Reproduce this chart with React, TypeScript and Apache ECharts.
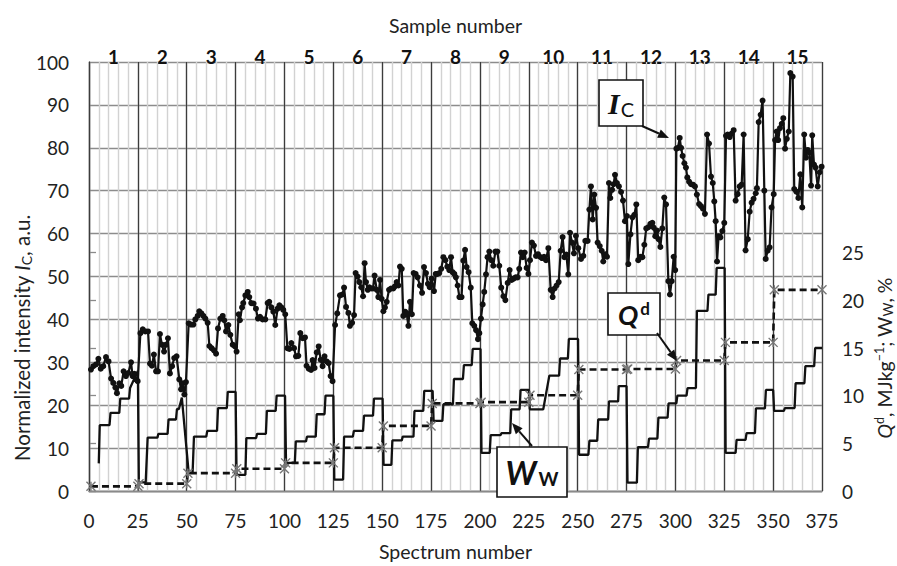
import React, { useEffect, useRef } from 'react';
import * as echarts from 'echarts';

// Sample numbers shown along the top axis (one per block of 25 spectra)
const sampleNumbers = ['1', '2', '3', '4', '5', '6', '7', '8', '9', '10', '11', '12', '13', '14', '15'];

// Normalized intensity I_C versus spectrum number
const intensityIc: [number, number][] = [
  [1, 28.3], [2.2, 29.1], [3.6, 29.5], [4.8, 30.8], [6, 28.5], [7.3, 29.1], [8.7, 31.2], [10, 30.2], [11.3, 26.2], [12.4, 25.2],
  [13.5, 24.1], [14.3, 22.8], [15.5, 25.1], [16.5, 24.5], [17.7, 27.9], [18.9, 26.8], [20.1, 27.5], [21.5, 30], [22.3, 26.8], [23.2, 27.3],
  [24, 26], [24.9, 25.6],
  [26.3, 36.8], [27.5, 37.7], [28.8, 37.2], [30.2, 37.2], [31.2, 29.7], [32.2, 29.2], [33.2, 31.8], [34.3, 27.9], [35.3, 27.9], [36.3, 36.6],
  [37.3, 34.1], [38.4, 32.5], [39.4, 34.1], [40.4, 35.6], [41.4, 27.4], [42.5, 29.1], [43.6, 31], [44.8, 31.4], [46.2, 26], [47.1, 23.7],
  [47.9, 25.1], [48.8, 22.5], [49.6, 25.4],
  [51, 39.1], [52.2, 38.8], [53.4, 38.8], [54.4, 40], [55.6, 40.8], [56.4, 41.9], [57.5, 41.4], [58.5, 40.8], [59.5, 40.2], [60.7, 39.2],
  [61.6, 33.8], [62.7, 33.3], [63.9, 32.8], [65, 32], [66, 37.9], [67.2, 40.2], [68.4, 40.8], [69.2, 39.8], [70.1, 37.2], [71.3, 38.7],
  [72.3, 36.4], [73.5, 34.1], [74.7, 33.7], [75.5, 32.5],
  [76.6, 41.2], [77.2, 39.8], [78.3, 42.8], [78.9, 43.8], [80, 45.6], [81.2, 46.4], [82, 45.2], [83, 43.8], [84.2, 43.7], [85.4, 42.5],
  [86.4, 40.2], [87.5, 40.6], [88.8, 40], [90.2, 40], [91.4, 43.8], [92.2, 44.1], [93.3, 42.8], [94.3, 41.8], [95.3, 38.7], [96.5, 42.5],
  [97.4, 43.3], [98.4, 42.8], [99.4, 42.2], [100.4, 41.2],
  [101.5, 33.3], [102.5, 33.1], [103.5, 34.5], [104.9, 33.3], [105.9, 31.4], [107.1, 31.5], [108.1, 36.8], [109.3, 35.6], [110.5, 35.8], [111.3, 29.2],
  [112.4, 28.5], [113.6, 28.2], [114.4, 30.5], [115.4, 28.7], [116.5, 32.3], [117.5, 33.7], [118.5, 30.6], [119.5, 29.1], [120.5, 31.4], [121.6, 30.2],
  [122.6, 29.8], [123.6, 26.8], [124.6, 25.6],
  [125.9, 38.7], [127, 41.4], [128.4, 45.6], [129.6, 45.8], [130.5, 47.4], [131.5, 42.9], [132.7, 41.5], [133.5, 38.5], [134.6, 39.2], [135.6, 41],
  [136.4, 50.8], [137.4, 50], [138.3, 48.7], [139.3, 47.5], [140.2, 45.4], [141, 53.1], [141.7, 48.7], [142.6, 46.9], [143.4, 47.5], [144.4, 47.2],
  [145.3, 47.2], [146.1, 50.2], [147.2, 46.9], [148, 45.2], [148.9, 49.2], [149.7, 44.8],
  [150.6, 41.9], [151.4, 42.8], [152.3, 44.1], [153.5, 46.9], [154.5, 47.2], [155.7, 47.2], [156.5, 47.7], [157.4, 48.7], [158.3, 47.9], [159.1, 52.3],
  [160, 51.8], [160.8, 40.8], [161.7, 41.8], [162.5, 41.4], [163.4, 38.5], [164.2, 44.1], [165.2, 41.2], [166.1, 50.8], [167.1, 50.6], [168.1, 49.8],
  [169.3, 47.9], [170.4, 46.2], [171.4, 52.2], [172.4, 50.8], [173.4, 48.3], [174.3, 47.5],
  [175.3, 49.5], [176.5, 46.6], [177.4, 50.6], [178.2, 50.6], [179.2, 50.8], [180.2, 51.8], [181.3, 54.5], [182.3, 53.8], [183.3, 52.3], [184.3, 51.5],
  [185.2, 54.5], [186, 51], [186.9, 50.6], [187.7, 49.8], [188.6, 47.9], [189.5, 45.2], [190.6, 45.2], [191.5, 53.7], [192.4, 56.2], [193.2, 52.2],
  [194.2, 51], [195.3, 47.4], [196.1, 39.1], [197.1, 38.5], [198, 37.5], [199, 35.4], [199.7, 36.8],
  [200.5, 40.2], [201.4, 43.5], [202.2, 46.4], [203.1, 50.5], [203.9, 54.5], [204.8, 55.8], [205.8, 53.8], [206.8, 52.5], [207.9, 55.8], [208.9, 55.8],
  [209.9, 52.5], [210.9, 47.4], [212, 45.4], [213, 44.5], [214.2, 48.5], [215.2, 51.5], [216.2, 49.2], [217.2, 49.5], [218.3, 49.8], [219.3, 49.8],
  [220.1, 51.8], [221, 55.6], [221.9, 54.5], [222.9, 55.6], [223.9, 52], [224.8, 50.6],
  [225.6, 53.8], [226.6, 57.9], [227.6, 57.2], [228.7, 54.8], [229.7, 55.2], [230.7, 54.6], [231.7, 54.3], [232.8, 54.6], [233.8, 53.8], [235, 56.6],
  [236.2, 46.9], [237.2, 45.2], [238.2, 47.2], [239.2, 47.9], [240.3, 48.7], [241.3, 56], [242.3, 59.2], [243.2, 54.5], [244.2, 55.1], [245.2, 50.5],
  [246.1, 60.2], [247.1, 57.9], [248.1, 55.4], [249.1, 59.5],
  [250.3, 56.6], [251.7, 54.1], [252.9, 54.8], [253.9, 58.3], [255.1, 58.3], [256, 65.6], [256.8, 71], [257.7, 63.3], [258.5, 69.1], [259.4, 66],
  [260.2, 57.9], [261.3, 57.1], [262.3, 56], [263.1, 53.5], [264.2, 55.2], [265, 54.6], [266, 71.8], [266.7, 68.3], [267.6, 70.2], [268.4, 71.5],
  [269.1, 73.7], [270.1, 71.8], [271.1, 71], [272.2, 69.7], [273.2, 67.7], [274.2, 62.9], [275.2, 64.1],
  [275.9, 52.9], [277, 59.8], [278, 63.8], [279, 64.4], [280, 66.8], [281, 53.8], [282.1, 54.6], [283.1, 54.5], [284.1, 57.4], [285.1, 61.2],
  [286.2, 61.5], [287.2, 62.3], [288.2, 62.5], [288.9, 61.4], [289.7, 59.4], [290.6, 60.7], [291.4, 58.7], [292.3, 56.9], [293.3, 61.2], [294.3, 68.4],
  [295.2, 66.8], [296.4, 48.9], [297.2, 45.8], [298.1, 48.9], [299.1, 54.6], [299.9, 51.5],
  [300.5, 79.8], [301.3, 80], [302.2, 82.3], [302.9, 80], [303.7, 78.1], [304.6, 76.4], [305.4, 75.4], [306.1, 73.1], [307, 72.1], [308, 71.5],
  [309, 71.4], [310, 71], [311, 69.1], [312.1, 66.9], [313.1, 66.4], [314.1, 65.8], [315.1, 64.6], [316.2, 83.1], [317.2, 81], [318.2, 73.3],
  [319.1, 71.8], [319.9, 67.5], [320.6, 62.9], [321.3, 53.5], [322.1, 59.4], [323, 59.1], [324, 60.6], [325, 62.5],
  [325.9, 82.8], [326.7, 83.1], [327.8, 82.5], [328.8, 83.3], [329.8, 84.1], [330.8, 67.7], [331.8, 69.2], [332.9, 71], [333.9, 71.4], [334.9, 83.1],
  [335.9, 56.1], [337, 58.7], [338, 65.1], [339, 67.2], [340, 68.1], [341.1, 69.4], [341.7, 70.6], [342.6, 86], [343.6, 87.7], [344.6, 91],
  [345.5, 70], [346.2, 54.1], [347.2, 56], [348.2, 56.8], [349.2, 66.1],
  [350.3, 69.2], [351, 81.8], [351.8, 83.8], [352.6, 81.8], [353.5, 84.6], [354.4, 85.6], [355.2, 86.9], [356.1, 79.8], [357, 82.1], [358, 83.8],
  [358.8, 97.4], [360, 96.6], [360.8, 70.4], [361.8, 69.8], [362.9, 68.3], [363.9, 73.8], [364.9, 66.1], [365.9, 83.1], [366.8, 77.7], [367.7, 79.5],
  [368.5, 78.9], [369.4, 71.2], [370, 82.9], [370.9, 76.1], [371.7, 75.4], [372.8, 71], [373.8, 74.3], [374.8, 75.6],
];

// Moisture W_W (%), stepwise within each sample
const moistureWw: [number, number][] = [
  [5, 2.9], [5.5, 6.9], [10.5, 6.9], [11, 8.2], [15.5, 8.2], [16, 9.7], [20.5, 9.7], [21, 10.8], [25, 12.6],
  [25.5, 0.9], [29, 0.9], [30, 5.6], [35, 5.6], [35.5, 6.0], [40.2, 6.0], [40.7, 7.5], [44.5, 7.5], [45, 8.6], [46, 8.6], [47.5, 9.8], [51, 1.9],
  [53, 1.9], [53.7, 5.7], [60, 5.7], [60.5, 6.3], [65.5, 6.3], [66, 8.7], [70.5, 8.7], [71, 10.4], [75, 10.4],
  [75.5, 1.7], [80, 1.7], [80.5, 5.55], [85.5, 5.55], [86, 6.0], [90.5, 6.0], [91, 8.4], [95.5, 8.4], [96, 10.0], [100.3, 10.0],
  [100.8, 2.95], [105.3, 2.95], [105.8, 5.2], [111, 5.2], [111.5, 5.7], [116, 5.7], [116.5, 8.05], [120.5, 8.05], [121, 10.0], [125, 10.0],
  [125.5, 1.2], [130, 1.2], [130.5, 5.7], [135, 5.7], [135.5, 6.3], [140.2, 6.3], [140.7, 7.9], [145.3, 7.9], [145.8, 9.7], [150.2, 9.7],
  [150.7, 2.75], [154.7, 2.75], [155.2, 5.3], [160, 5.3], [160.5, 5.7], [166, 5.7], [166.5, 8.4], [171, 8.4], [171.5, 10.5], [175.8, 10.5],
  [176.3, 7.35], [180.8, 7.35], [181.3, 9.1], [186.2, 9.1], [186.7, 11.75], [191.3, 11.75], [191.8, 13.2], [195.8, 13.2], [196.3, 14.9], [200.3, 14.9],
  [200.8, 4.0], [205, 4.0], [205.5, 5.86], [210.5, 5.86], [211, 6.07], [215.5, 6.07], [216, 8.57], [220.3, 8.57], [220.8, 10.6], [225, 10.6],
  [225.5, 8.57], [232.4, 8.57], [235.5, 12.1], [240.5, 12.1], [241, 13.9], [245, 13.9], [245.5, 15.95], [250.2, 15.95],
  [250.7, 3.8], [255.5, 3.8], [256, 5.27], [260, 5.27], [260.5, 7.5], [265.6, 7.5], [266, 9.4], [270.7, 9.4], [271, 11.0], [275, 11.0],
  [275.5, 0.87], [280.3, 0.87], [280.8, 4.6], [286, 4.6], [286.5, 5.5], [290.8, 5.5], [291.3, 7.7], [296, 7.7], [296.5, 9.2], [300.5, 9.2],
  [301, 10.0], [305.7, 10.0], [306.2, 10.8], [310.5, 10.8], [311, 18.9], [316.4, 18.9], [316.9, 20.6], [320.6, 20.6], [321.1, 23.4], [325.2, 23.4],
  [325.7, 4.0], [330.8, 4.0], [331.3, 5.37], [335.9, 5.37], [336.4, 6.07], [340.7, 6.07], [341.2, 8.67], [345.8, 8.67], [346.3, 10.6], [350, 10.6],
  [350.5, 8.4], [355.5, 8.4], [356, 8.7], [361, 8.7], [361.5, 11.3], [366, 11.3], [366.5, 13.1], [371, 13.1], [371.5, 15.0], [375, 15.0],
];

// Heat of combustion Q^d (MJ/kg), one value per sample
const heatQd: number[] = [0.49, 0.77, 1.87, 2.33, 2.95, 4.54, 6.83, 9.19, 9.32, 10.05, 12.75, 12.79, 13.69, 15.59, 21.1];
const SPECTRA_PER_SAMPLE = 25;

const leftTicksMax = 100;
const rightTicksShown = [0, 5, 10, 15, 20, 25];

const FONT = 'Lato, "Open Sans", sans-serif';
const TEXT = '#222';

function heatPoints(): [number, number][] {
  const pts: [number, number][] = [];
  heatQd.forEach((q, i) => {
    const start = i === 0 ? 1 : i * SPECTRA_PER_SAMPLE + 0.6;
    const end = (i + 1) * SPECTRA_PER_SAMPLE;
    pts.push([start, q], [end, q]);
  });
  return pts;
}

function arrow(x1: number, y1: number, x2: number, y2: number) {
  const ang = Math.atan2(y2 - y1, x2 - x1);
  const len = 11;
  const hw = 4.5;
  const bx = x2 - len * Math.cos(ang);
  const by = y2 - len * Math.sin(ang);
  const px = -Math.sin(ang) * hw;
  const py = Math.cos(ang) * hw;
  return [
    { type: 'line', z: 100, shape: { x1, y1, x2: bx, y2: by }, style: { stroke: '#111', lineWidth: 2 } },
    { type: 'polygon', z: 100, shape: { points: [[x2, y2], [bx + px, by + py], [bx - px, by - py]] }, style: { fill: '#111' } },
  ];
}

function box(x: number, y: number, w: number, h: number, text: string, rich: any) {
  return [
    { type: 'rect', z: 100, shape: { x, y, width: w, height: h }, style: { fill: '#fff', stroke: '#111', lineWidth: 1.6 } },
    {
      type: 'text', z: 101, x: x + w / 2, y: y + h / 2,
      style: { text, rich, align: 'center', verticalAlign: 'middle', fill: '#111' },
    },
  ];
}

export default function App() {
  const ref = useRef<HTMLDivElement>(null);

  useEffect(() => {
    document.body.style.margin = '0';
    if (!ref.current) return;
    const chart = echarts.init(ref.current, null, { renderer: 'svg' });

    const graphic: any[] = [
      {
        type: 'text', x: 22, y: 338, rotation: Math.PI / 2,
        style: {
          text: 'Normalized intensity {i|I}{s|C}, a.u.',
          align: 'center', verticalAlign: 'middle',
          font: `20.5px ${FONT}`, fill: TEXT,
          rich: {
            i: { fontStyle: 'italic', fontSize: 20.5, fontFamily: FONT, fill: TEXT },
            s: { fontSize: 14, fontFamily: FONT, fill: TEXT, padding: [8, 0, 0, 0] },
          },
        },
      },
      {
        type: 'text', x: 884, y: 358, rotation: Math.PI / 2,
        style: {
          text: '{i|Q}{sup|d}, MJkg{sup|−1}; W{s|W}, %',
          align: 'center', verticalAlign: 'middle',
          font: `19.5px ${FONT}`, fill: TEXT,
          rich: {
            i: { fontStyle: 'italic', fontSize: 19.5, fontFamily: FONT, fill: TEXT },
            sup: { fontSize: 12.5, fontFamily: FONT, fill: TEXT, padding: [0, 0, 9, 0] },
            s: { fontSize: 13.5, fontFamily: FONT, fill: TEXT, padding: [8, 0, 0, 0] },
          },
        },
      },
      ...box(599, 80, 44, 46, '{a|I}{b|C}', {
        a: { fontFamily: '"Liberation Serif", serif', fontStyle: 'italic', fontWeight: 'bold', fontSize: 30, fill: '#111' },
        b: { fontFamily: FONT, fontSize: 20, fill: '#111', padding: [12, 0, 0, 1] },
      }),
      ...arrow(642, 126, 669, 138),
      ...box(608, 293, 52, 42, '{a|Q}{b|d}', {
        a: { fontFamily: FONT, fontStyle: 'italic', fontWeight: 'bold', fontSize: 27, fill: '#111' },
        b: { fontFamily: FONT, fontWeight: 'bold', fontSize: 17, fill: '#111', padding: [0, 0, 12, 2] },
      }),
      ...arrow(657, 333, 677, 361),
      ...box(497, 447, 70, 50, '{a|W}{b|W}', {
        a: { fontFamily: FONT, fontStyle: 'italic', fontWeight: 'bold', fontSize: 32, fill: '#111' },
        b: { fontFamily: FONT, fontWeight: 'bold', fontSize: 19, fill: '#111', padding: [12, 0, 0, 2] },
      }),
      ...arrow(532, 446, 512, 423),
    ];

    chart.setOption({
      animation: false,
      backgroundColor: '#fff',
      textStyle: { fontFamily: FONT, color: TEXT },
      grid: { left: 89, right: 75, top: 62, bottom: 70, containLabel: false },
      xAxis: [
        {
          type: 'value', min: 0, max: 375, interval: 25, position: 'bottom',
          name: 'Spectrum number', nameLocation: 'middle', nameGap: 50,
          nameTextStyle: { fontSize: 19.5, color: TEXT, fontFamily: FONT },
          axisLine: { show: true, onZero: false, lineStyle: { color: '#8a8a8a', width: 1.3 } },
          axisTick: { show: false },
          axisLabel: { fontSize: 19, color: TEXT, margin: 20, fontFamily: FONT },
          splitLine: { show: true, lineStyle: { color: '#3c3c3c', width: 1.3 } },
          z: 3,
        },
        {
          type: 'value', min: 0, max: 375, interval: 5, position: 'bottom',
          axisLine: { show: false }, axisTick: { show: false }, axisLabel: { show: false },
          splitLine: { show: true, lineStyle: { color: '#d2d2d2', width: 1.4 } },
          z: 1,
        },
        {
          type: 'category', data: sampleNumbers, position: 'top', boundaryGap: true,
          name: 'Sample number', nameLocation: 'middle', nameGap: 27,
          nameTextStyle: { fontSize: 19.5, color: TEXT, fontFamily: FONT },
          axisLine: { show: true, lineStyle: { color: '#8a8a8a', width: 1.3 } },
          axisTick: { show: false },
          axisLabel: { fontSize: 19, fontWeight: 'bold', color: '#111', margin: -4, fontFamily: FONT },
          splitLine: { show: false },
        },
      ],
      yAxis: [
        {
          type: 'value', min: 0, max: leftTicksMax, interval: 10, position: 'left',
          axisLine: { show: true, lineStyle: { color: '#555', width: 1.3 } },
          axisTick: { show: false },
          axisLabel: { fontSize: 19, color: TEXT, margin: 20, fontFamily: FONT },
          splitLine: { show: true, lineStyle: { color: '#8c8c8c', width: 1.3 } },
        },
        {
          type: 'value', min: 0, max: 45, interval: 5, position: 'right',
          axisLine: { show: true, lineStyle: { color: '#8a8a8a', width: 1.3 } },
          axisTick: { show: true, inside: false, length: 7, customValues: rightTicksShown, lineStyle: { color: '#8a8a8a', width: 1.3 } },
          axisLabel: { fontSize: 19, color: TEXT, margin: 20, fontFamily: FONT, customValues: rightTicksShown },
          splitLine: { show: false },
        },
      ],
      graphic,
      series: [
        {
          name: 'Ww', type: 'line', xAxisIndex: 0, yAxisIndex: 1, data: moistureWw,
          showSymbol: false, symbol: 'none',
          lineStyle: { color: '#111', width: 2.3 }, z: 4,
        },
        {
          name: 'Qd', type: 'line', xAxisIndex: 0, yAxisIndex: 1, data: heatPoints(),
          symbol: 'path://M0,0L10,10M10,0L0,10M5,0L5,10', symbolSize: 9,
          itemStyle: { color: 'none', borderColor: '#777', borderWidth: 1.4 },
          lineStyle: { color: '#111', width: 2.6, type: [7, 4] }, z: 5,
        },
        {
          name: 'Ic', type: 'line', xAxisIndex: 0, yAxisIndex: 0, data: intensityIc,
          symbol: 'circle', symbolSize: 6, showSymbol: true,
          itemStyle: { color: '#111' },
          lineStyle: { color: '#111', width: 2.2 }, z: 6,
        },
      ],
    });

    return () => chart.dispose();
  }, []);

  return <div ref={ref} style={{ width: 897, height: 566 }} />;
}
